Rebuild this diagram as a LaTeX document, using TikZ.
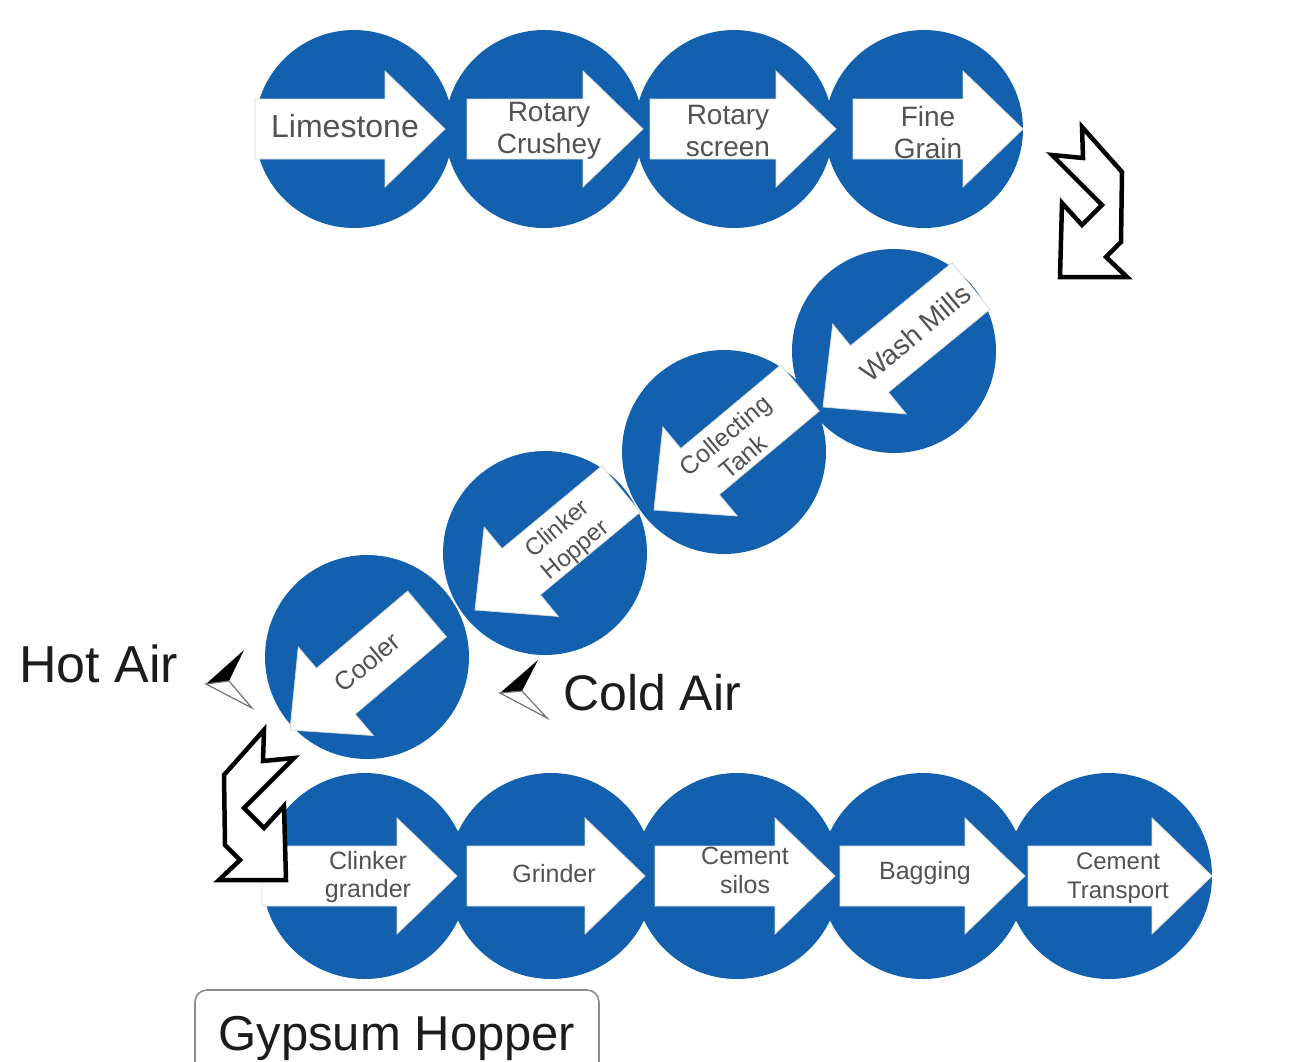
\documentclass[tikz,border=0pt]{standalone}
\usepackage{fontspec}
\setmainfont{Liberation Sans}
\usetikzlibrary{calc}

\definecolor{stepblue}{RGB}{19,97,174}
\definecolor{labelgray}{RGB}{82,82,82}
\definecolor{darktext}{RGB}{28,28,28}

% font size helper: size and baseline skip in bp
\newcommand\fs[2]{\fontsize{#1bp}{#2bp}\selectfont}

% white block arrow from tail #2 to tip #3, coordinates prefixed by #1
\newcommand\stepflow[3]{%
  \coordinate (#1-t) at #2;
  \coordinate (#1-p) at #3;
  \coordinate (#1-b) at ($(#1-p)!60bp!(#1-t)$);
  \path[flowbody]
    ($(#1-t)!30bp!90:(#1-p)$) -- ($(#1-b)!30bp!90:(#1-p)$) --
    ($(#1-b)!58bp!90:(#1-p)$) -- (#1-p) --
    ($(#1-b)!58bp!-90:(#1-p)$) -- ($(#1-b)!30bp!-90:(#1-p)$) --
    ($(#1-t)!30bp!-90:(#1-p)$) -- cycle;
}

% hollow zig-zag arrow, drawn relative to its tip at the origin
\newcommand\zigpath{%
  (0,0) -- (67,0) -- (46,-20) -- (61,-35) -- (62,-105) -- (22,-150) --
  (23,-119) -- (-8,-122) -- (42,-72) -- (22,-52) -- (2,-74) -- cycle}

\tikzset{
  disc/.style={circle, fill=stepblue, draw=none, inner sep=0pt, minimum size=#1},
  flowbody/.style={fill=white, draw=black!15, line width=0.8bp, line join=miter},
  lbl/.style={text=labelgray, align=center, inner sep=0pt},
  zigarrow/.style={draw=black, fill=white, line width=4.5bp, line join=miter},
  airlabel/.style={anchor=base west, inner sep=0pt, text=darktext},
  hopperbox/.style={draw=black!45, line width=1.6bp, rounded corners=12bp,
    minimum width=404bp, minimum height=94bp, text height=36bp, text depth=10bp,
    text=darktext, font=\fs{49}{54}},
}

\begin{document}
\begin{tikzpicture}[x=1bp,y=-1bp]
\clip (0,0) rectangle (1300,1061);
\fill[white] (0,0) rectangle (1300,1061);

% ---- process discs ----
\node[disc=198bp] (c-lime)   at (354,129) {};
\node[disc=198bp] (c-crush)  at (544,129) {};
\node[disc=198bp] (c-screen) at (734,129) {};
\node[disc=198bp] (c-fine)   at (924,129) {};

\node[disc=204bp] (c-wash)   at (894,351) {};
\node[disc=204bp] (c-tank)   at (724,452) {};
\node[disc=204bp] (c-hopper) at (545,553) {};
\node[disc=204bp] (c-cooler) at (367,657) {};

\node[disc=206bp] (c-cgrind) at (365,876) {};
\node[disc=206bp] (c-grind)  at (551,876) {};
\node[disc=206bp] (c-silo)   at (737,876) {};
\node[disc=206bp] (c-bag)    at (923,876) {};
\node[disc=206bp] (c-trans)  at (1109,876) {};

% ---- block arrows ----
\stepflow{a-lime}{(255,129)}{(445,129)}
\stepflow{a-crush}{(467,129)}{(643,129)}
\stepflow{a-screen}{(650,129)}{(836,129)}
\stepflow{a-fine}{(853,129)}{(1023,129)}

\stepflow{a-wash}{(971,286)}{(823,407)}
\stepflow{a-tank}{(800,388)}{(654,510)}
\stepflow{a-hopper}{(621,489)}{(475,610)}
\stepflow{a-cooler}{(427,614)}{(290,730)}

\stepflow{a-cgrind}{(262,876)}{(457,876)}
\stepflow{a-grind}{(467,876)}{(645,876)}
\stepflow{a-silo}{(655,876)}{(835,876)}
\stepflow{a-bag}{(840,876)}{(1025,876)}
\stepflow{a-trans}{(1028,876)}{(1212,876)}

% ---- labels on the arrows ----
\node[lbl, font=\fs{32}{36}] (t-lime)   at (345,126) {Limestone};
\node[lbl, font=\fs{28}{32}] (t-crush)  at (549,131) {Rotary\\Crushey};
\node[lbl, font=\fs{28}{32}] (t-screen) at (728,131) {Rotary\\screen};
\node[lbl, font=\fs{28}{32}] (t-fine)   at (928,132) {Fine\\Grain};

\node[lbl, font=\fs{28}{32}, rotate=40] (t-wash)   at (915,333) {Wash Mills};
\node[lbl, font=\fs{25}{28}, rotate=40] (t-tank)   at (734,446) {Collecting\\Tank};
\node[lbl, font=\fs{24}{28}, rotate=40] (t-hopper) at (567,540) {Clinker\\Hopper};
\node[lbl, font=\fs{26}{30}, rotate=40] (t-cooler) at (367,662) {Cooler};

\node[lbl, font=\fs{25}{28}] (t-cgrind) at (368,877) {Clinker\\grander};
\node[lbl, font=\fs{25}{28}] (t-grind)  at (554,874) {Grinder};
\node[lbl, font=\fs{25}{29}] (t-silo)   at (745,870) {Cement\\silos};
\node[lbl, font=\fs{25}{28}] (t-bag)    at (925,873) {Bagging};
\node[lbl, font=\fs{24}{29}] (t-trans)  at (1118,878) {Cement\\Transport};

% ---- hollow zig-zag arrows between the rows ----
\coordinate (zig-top) at (1060,277);
\coordinate (zig-low) at (286,880);
\begin{scope}[shift={(zig-top)}]
  \draw[zigarrow] \zigpath;
\end{scope}
\begin{scope}[shift={(zig-low)}, xscale=-1]
  \draw[zigarrow] \zigpath;
\end{scope}

% ---- air pointers ----
\coordinate (hot-t) at (206,684);
\coordinate (hot-u) at (244,650);
\coordinate (hot-m) at (229,681);
\coordinate (hot-l) at (252,708);
\fill[black] (hot-t) -- (hot-u) -- (hot-m) -- cycle;
\filldraw[fill=white, draw=black!55, line width=1.2bp, line join=miter]
  (hot-t) -- (hot-m) -- (hot-l) -- cycle;

\coordinate (cold-t) at (500,693);
\coordinate (cold-u) at (538,660);
\coordinate (cold-m) at (522,691);
\coordinate (cold-l) at (547,718);
\fill[black] (cold-t) -- (cold-u) -- (cold-m) -- cycle;
\filldraw[fill=white, draw=black!55, line width=1.2bp, line join=miter]
  (cold-t) -- (cold-m) -- (cold-l) -- cycle;

\node[airlabel, font=\fs{52}{56}] (hotair)  at (19,682)  {Hot Air};
\node[airlabel, font=\fs{50}{56}] (coldair) at (563,710) {Cold Air};

% ---- gypsum hopper ----
\node[hopperbox] (gypsum) at (397,1037) {Gypsum Hopper};
\end{tikzpicture}
\end{document}
